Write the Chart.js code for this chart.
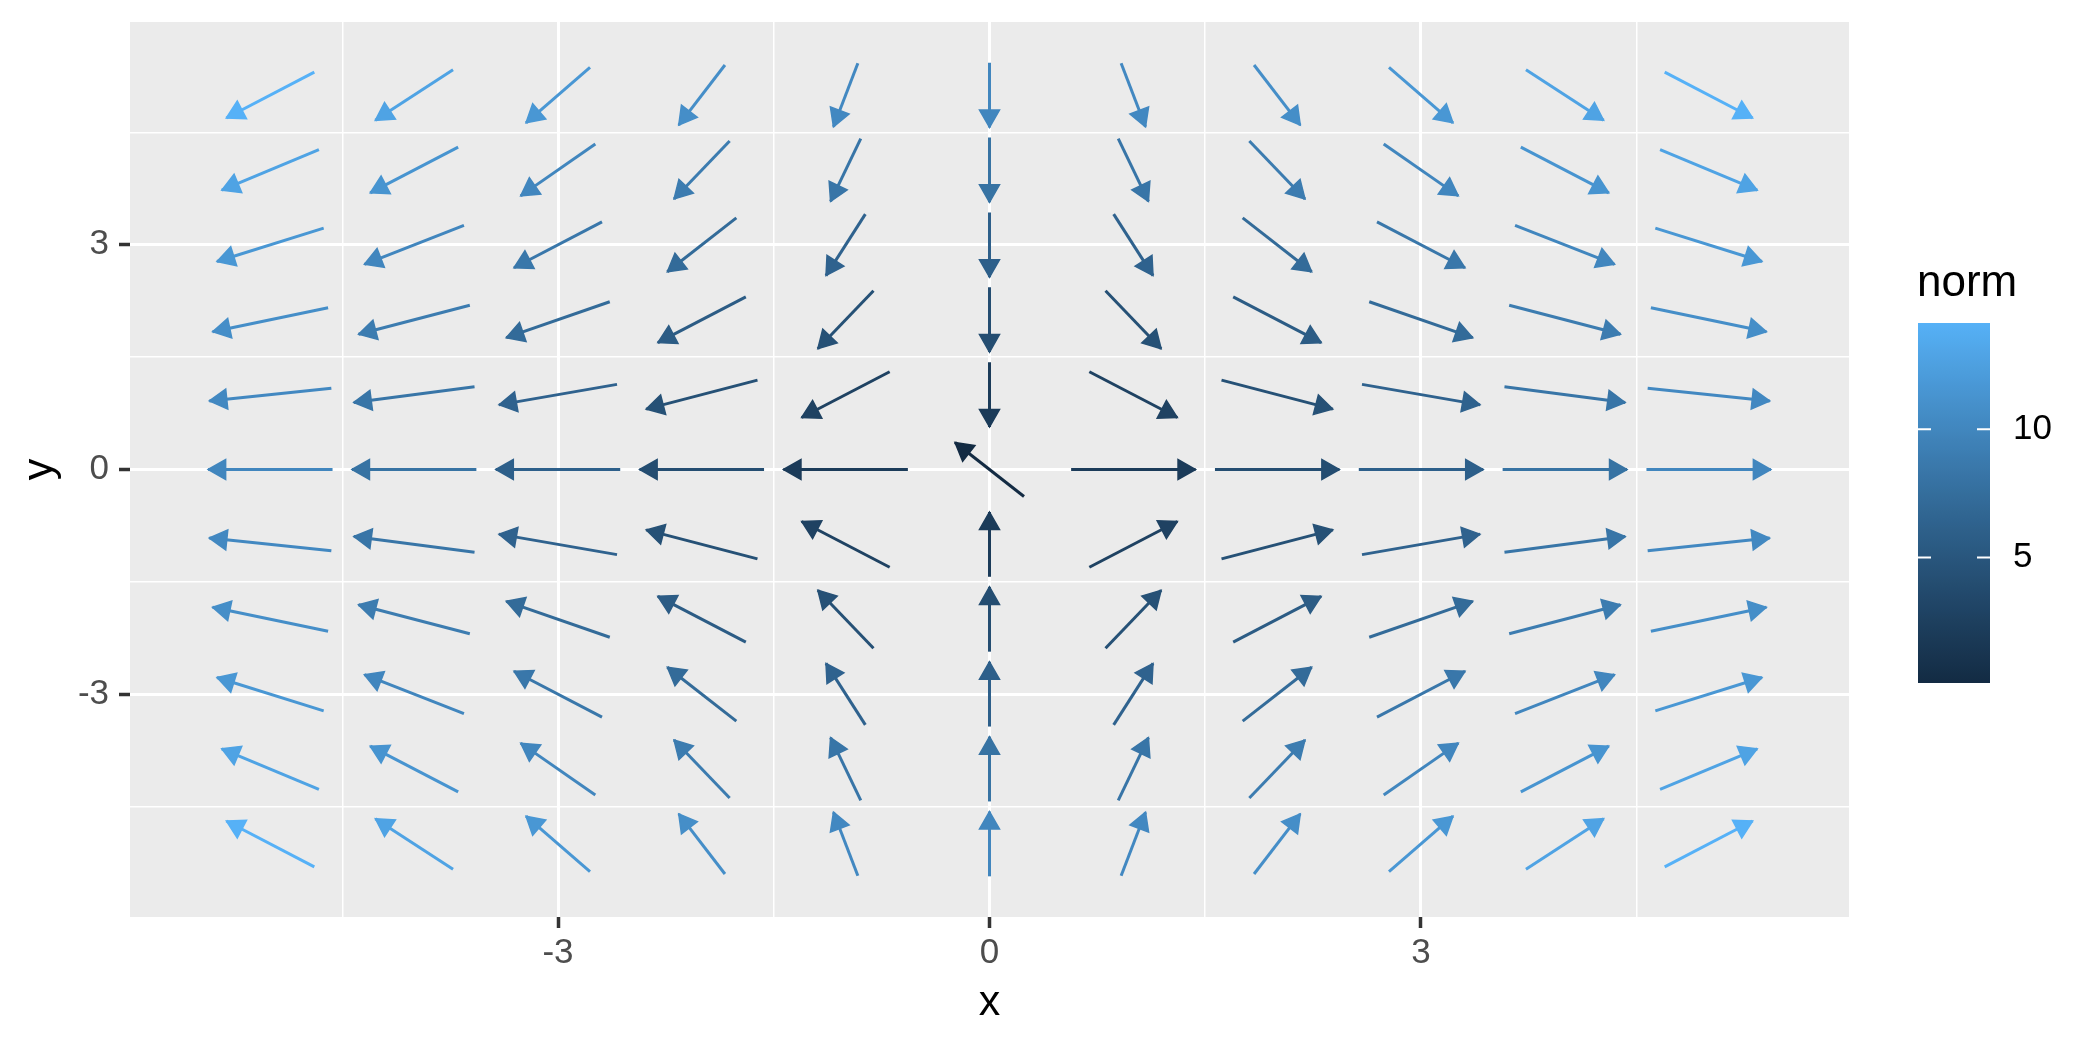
<!DOCTYPE html>
<html>
<head>
<meta charset="utf-8">
<script src="https://cdn.jsdelivr.net/npm/chart.js@4"></script>
<style>
  html, body { margin: 0; padding: 0; background: #ffffff; }
  #wrap { width: 2100px; height: 1050px; }
</style>
</head>
<body>
<div id="wrap"><canvas id="field" width="2100" height="1050"></canvas></div>
<script>
/* ---------- DATA ---------- */

// grid points of the field
const xGrid = [-5, -4, -3, -2, -1, 0, 1, 2, 3, 4, 5];
const yGrid = [5, 4, 3, 2, 1, 0, -1, -2, -3, -4, -5];

// horizontal component, one row per y (top row first)
const uRows = [
  [-10, -8, -6, -4, -2, 0, 2, 4, 6, 8, 10],
  [-10, -8, -6, -4, -2, 0, 2, 4, 6, 8, 10],
  [-10, -8, -6, -4, -2, 0, 2, 4, 6, 8, 10],
  [-10, -8, -6, -4, -2, 0, 2, 4, 6, 8, 10],
  [-10, -8, -6, -4, -2, 0, 2, 4, 6, 8, 10],
  [-10, -8, -6, -4, -2, -0.06, 2, 4, 6, 8, 10],
  [-10, -8, -6, -4, -2, 0, 2, 4, 6, 8, 10],
  [-10, -8, -6, -4, -2, 0, 2, 4, 6, 8, 10],
  [-10, -8, -6, -4, -2, 0, 2, 4, 6, 8, 10],
  [-10, -8, -6, -4, -2, 0, 2, 4, 6, 8, 10],
  [-10, -8, -6, -4, -2, 0, 2, 4, 6, 8, 10]
];

// vertical component, same layout
const vRows = [
  [-10, -10, -10, -10, -10, -10, -10, -10, -10, -10, -10],
  [-8, -8, -8, -8, -8, -8, -8, -8, -8, -8, -8],
  [-6, -6, -6, -6, -6, -6, -6, -6, -6, -6, -6],
  [-4, -4, -4, -4, -4, -4, -4, -4, -4, -4, -4],
  [-2, -2, -2, -2, -2, -2, -2, -2, -2, -2, -2],
  [0, 0, 0, 0, 0, 0.09, 0, 0, 0, 0, 0],
  [2, 2, 2, 2, 2, 2, 2, 2, 2, 2, 2],
  [4, 4, 4, 4, 4, 4, 4, 4, 4, 4, 4],
  [6, 6, 6, 6, 6, 6, 6, 6, 6, 6, 6],
  [8, 8, 8, 8, 8, 8, 8, 8, 8, 8, 8],
  [10, 10, 10, 10, 10, 10, 10, 10, 10, 10, 10]
];

const gridTicks = [-4.5, -3, -1.5, 0, 1.5, 3, 4.5];
const labelTicks = [-3, 0, 3];
const legendBreaks = [5, 10];

/* ---------- STYLE ---------- */

const ARROW_LEN = 0.865;          // drawn length of every arrow, data units
const LOW = "#132B43";
const HIGH = "#56B1F7";
const FONT = "'Liberation Sans', Arial, sans-serif";

/* ---------- COLOUR (ggplot gradient, interpolated in Lab) ---------- */

const WHITE = [0.95047, 1, 1.08883];
const toLin = c => { c /= 255; return c <= 0.04045 ? c / 12.92 : Math.pow((c + 0.055) / 1.055, 2.4); };
const fromLin = c => {
  const v = c <= 0.0031308 ? 12.92 * c : 1.055 * Math.pow(c, 1 / 2.4) - 0.055;
  return Math.round(Math.min(1, Math.max(0, v)) * 255);
};

function hexToLab(hex) {
  const [r, g, b] = [1, 3, 5].map(i => toLin(parseInt(hex.slice(i, i + 2), 16)));
  const X = r * 0.4124564 + g * 0.3575761 + b * 0.1804375;
  const Y = r * 0.2126729 + g * 0.7151522 + b * 0.0721750;
  const Z = r * 0.0193339 + g * 0.1191920 + b * 0.9503041;
  const f = t => t > 0.008856 ? Math.cbrt(t) : 7.787 * t + 16 / 116;
  const fx = f(X / WHITE[0]), fy = f(Y / WHITE[1]), fz = f(Z / WHITE[2]);
  return [116 * fy - 16, 500 * (fx - fy), 200 * (fy - fz)];
}

function labToCss([L, a, b]) {
  const fy = (L + 16) / 116, fx = fy + a / 500, fz = fy - b / 200;
  const inv = t => t * t * t > 0.008856 ? t * t * t : (t - 16 / 116) / 7.787;
  const X = inv(fx) * WHITE[0], Y = inv(fy) * WHITE[1], Z = inv(fz) * WHITE[2];
  const r = 3.2404542 * X - 1.5371385 * Y - 0.4985314 * Z;
  const g = -0.9692660 * X + 1.8760108 * Y + 0.0415560 * Z;
  const bl = 0.0556434 * X - 0.2040259 * Y + 1.0572252 * Z;
  return "rgb(" + [r, g, bl].map(fromLin).join(",") + ")";
}

const labLow = hexToLab(LOW), labHigh = hexToLab(HIGH);
const ramp = t => labToCss(labLow.map((v, i) => v + (labHigh[i] - v) * t));

/* ---------- BUILD ARROWS ---------- */

const norms = uRows.map((row, i) => row.map((u, j) => Math.hypot(u, vRows[i][j])));
const flatNorms = norms.flat();
const nMin = Math.min(...flatNorms);
const nMax = Math.max(...flatNorms);
const colourOf = n => ramp((n - nMin) / (nMax - nMin));

const arrows = [];
yGrid.forEach((y, i) => {
  xGrid.forEach((x, j) => {
    const u = uRows[i][j], v = vRows[i][j], n = norms[i][j];
    const hx = u / n * ARROW_LEN / 2, hy = v / n * ARROW_LEN / 2;
    arrows.push({ x0: x - hx, y0: y - hy, x1: x + hx, y1: y + hy, colour: colourOf(n) });
  });
});

// ggplot style 5% expansion of the data range
const allX = arrows.flatMap(a => [a.x0, a.x1]);
const allY = arrows.flatMap(a => [a.y0, a.y1]);
const expand = vals => {
  const lo = Math.min(...vals), hi = Math.max(...vals), pad = (hi - lo) * 0.05;
  return [lo - pad, hi + pad];
};
const [xMin, xMax] = expand(allX);
const [yMin, yMax] = expand(allY);

const datasets = arrows.map(a => ({
  data: [{ x: a.x0, y: a.y0 }, { x: a.x1, y: a.y1 }],
  showLine: true,
  borderColor: a.colour,
  backgroundColor: a.colour,
  borderWidth: 3,
  pointRadius: 0,
  pointHoverRadius: 0,
  fill: false
}));

/* ---------- PLUGINS ---------- */

const panelBackground = {
  id: "panelBackground",
  beforeDraw(chart) {
    const { ctx, chartArea: a } = chart;
    ctx.save();
    ctx.fillStyle = "#EBEBEB";
    ctx.fillRect(a.left, a.top, a.right - a.left, a.bottom - a.top);
    ctx.restore();
  }
};

const arrowHeads = {
  id: "arrowHeads",
  afterDatasetsDraw(chart) {
    const ctx = chart.ctx;
    ctx.save();
    chart.data.datasets.forEach((ds, i) => {
      const pts = chart.getDatasetMeta(i).data;
      const p0 = pts[0], p1 = pts[1];
      const ang = Math.atan2(p1.y - p0.y, p1.x - p0.x);
      const along = 17.5, half = 10;
      const cx = Math.cos(ang), sy = Math.sin(ang);
      const bx = p1.x - along * cx, by = p1.y - along * sy;
      ctx.beginPath();
      ctx.moveTo(p1.x, p1.y);
      ctx.lineTo(bx - half * sy, by + half * cx);
      ctx.lineTo(bx + half * sy, by - half * cx);
      ctx.closePath();
      ctx.fillStyle = ds.borderColor;
      ctx.strokeStyle = ds.borderColor;
      ctx.lineWidth = 1.5;
      ctx.lineJoin = "miter";
      ctx.fill();
      ctx.stroke();
    });
    ctx.restore();
  }
};

const colourBar = {
  id: "colourBar",
  afterDraw(chart) {
    const ctx = chart.ctx;
    const left = 1918, width = 72, top = 323, bottom = 683;
    const yOf = v => bottom - (v - nMin) / (nMax - nMin) * (bottom - top);
    ctx.save();
    const grad = ctx.createLinearGradient(0, bottom, 0, top);
    for (let k = 0; k <= 40; k++) grad.addColorStop(k / 40, ramp(k / 40));
    ctx.fillStyle = grad;
    ctx.fillRect(left, top, width, bottom - top);

    ctx.strokeStyle = "#FFFFFF";
    ctx.lineWidth = 2;
    legendBreaks.forEach(b => {
      const y = yOf(b);
      ctx.beginPath();
      ctx.moveTo(left, y); ctx.lineTo(left + 13, y);
      ctx.moveTo(left + width - 13, y); ctx.lineTo(left + width, y);
      ctx.stroke();
      ctx.fillStyle = "#000000";
      ctx.font = "35px " + FONT;
      ctx.textAlign = "left";
      ctx.textBaseline = "middle";
      ctx.fillText(String(b), 2013, y);
    });

    ctx.fillStyle = "#000000";
    ctx.font = "44px " + FONT;
    ctx.textAlign = "left";
    ctx.textBaseline = "alphabetic";
    ctx.fillText("norm", 1917, 296);
    ctx.restore();
  }
};

/* ---------- AXES ---------- */

const isLabelTick = c => c.tick && labelTicks.includes(c.tick.value);

function axisOptions(min, max, title, titlePadding, fitSize, horizontal) {
  return {
    type: "linear",
    min: min,
    max: max,
    afterBuildTicks: s => { s.ticks = gridTicks.map(v => ({ value: v })); },
    afterFit: s => {
      if (horizontal) s.height = fitSize; else s.width = fitSize;
      s.paddingTop = 0; s.paddingBottom = 0; s.paddingLeft = 0; s.paddingRight = 0;
    },
    border: { display: false },
    grid: {
      color: "#FFFFFF",
      lineWidth: c => isLabelTick(c) ? 3 : 1.5,
      drawTicks: true,
      tickLength: 11,
      tickColor: c => isLabelTick(c) ? "#333333" : "rgba(0,0,0,0)",
      tickWidth: 3.5
    },
    ticks: {
      autoSkip: false,
      maxRotation: 0,
      padding: horizontal ? 4 : 10,
      color: "#4D4D4D",
      font: { family: FONT, size: 35 },
      callback: v => labelTicks.includes(v) ? String(v) : ""
    },
    title: {
      display: true,
      text: title,
      color: "#000000",
      font: { family: FONT, size: 43 },
      padding: titlePadding
    }
  };
}

new Chart(document.getElementById("field"), {
  type: "scatter",
  data: { datasets: datasets },
  options: {
    responsive: false,
    devicePixelRatio: 1,
    animation: false,
    events: [],
    layout: { padding: { top: 22, right: 251, left: 0, bottom: 0 } },
    plugins: {
      legend: { display: false },
      tooltip: { enabled: false }
    },
    scales: {
      x: axisOptions(xMin, xMax, "x", { top: 0, bottom: 21 }, 133, true),
      y: axisOptions(yMin, yMax, "y", { top: 14, bottom: 0 }, 130, false)
    }
  },
  plugins: [panelBackground, arrowHeads, colourBar]
});
</script>
</body>
</html>
